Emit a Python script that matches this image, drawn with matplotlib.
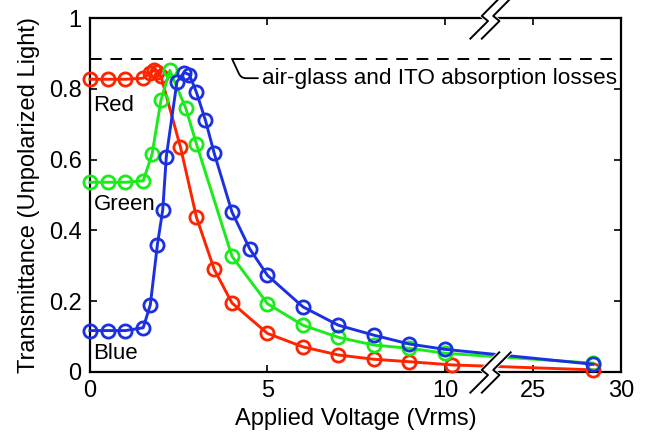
import numpy as np
import matplotlib
matplotlib.use("Agg")
import matplotlib.pyplot as plt
from matplotlib.path import Path
from matplotlib.ticker import FormatStrFormatter

plt.rcParams["font.family"] = ["Liberation Sans", "DejaVu Sans"]

# data (voltage in Vrms, transmittance 0..1)
red_v = [0, 0.5, 1.0, 1.5, 1.7, 1.8, 1.9, 2.0, 2.55, 3.0, 3.5, 4.0, 5, 6, 7, 8, 9, 10.2, 28.4]
red_t = [0.827, 0.827, 0.827, 0.830, 0.846, 0.852, 0.848, 0.835, 0.635, 0.437, 0.290,
         0.195, 0.109, 0.071, 0.048, 0.036, 0.029, 0.020, 0.006]

green_v = [0, 0.5, 1.0, 1.5, 1.75, 2.0, 2.25, 2.7, 3.0, 4.0, 5, 6, 7, 8, 9, 10, 28.4]
green_t = [0.536, 0.536, 0.536, 0.540, 0.616, 0.768, 0.852, 0.745, 0.644, 0.327,
           0.193, 0.132, 0.098, 0.076, 0.067, 0.053, 0.025]

blue_v = [0, 0.5, 1.0, 1.5, 1.7, 1.9, 2.05, 2.15, 2.45, 2.65, 2.8, 3.0, 3.25, 3.5,
          4.0, 4.5, 5, 6, 7, 8, 9, 10, 28.4]
blue_t = [0.117, 0.117, 0.117, 0.125, 0.190, 0.360, 0.458, 0.608, 0.820, 0.846, 0.840,
          0.790, 0.712, 0.618, 0.452, 0.348, 0.273, 0.184, 0.132, 0.104, 0.079, 0.064, 0.022]

loss_level = 0.885
x_ticks = [0, 5, 10, 25, 30]
y_ticks = [0, 0.2, 0.4, 0.6, 0.8, 1]

# broken x axis: 0..11.27 linear, then 22.56..30 compressed
XB = 11.27
X2 = 22.56
R = 0.496


def fwd(x):
    x = np.asarray(x, dtype=float)
    return np.where(x <= XB, x, np.where(x >= X2, XB + (x - X2) * R, XB))


def inv(t):
    t = np.asarray(t, dtype=float)
    return np.where(t <= XB, t, X2 + (t - XB) / R)


fig = plt.figure(figsize=(6.45, 4.36), dpi=100)
ax = fig.add_axes([0.1395, 0.1468, 0.8233, 0.8119])
ax.set_xscale("function", functions=(fwd, inv))

colors = {"Red": "#ff2400", "Green": "#1aeb1a", "Blue": "#1b30e0"}
series = [("Red", red_v, red_t), ("Green", green_v, green_t), ("Blue", blue_v, blue_t)]

for name, v, t in series:
    ax.plot(v, t, "-o", color=colors[name], lw=2.1, ms=9.5, mew=2.0,
            mfc="none", clip_on=False, zorder=3)

ax.axhline(loss_level, color="black", lw=1.4, dashes=(6, 4.5), zorder=2)

ax.annotate("air-glass and ITO absorption losses", xy=(4.0, loss_level),
            xytext=(4.85, 0.830), fontsize=16.2, va="center", ha="left",
            arrowprops=dict(arrowstyle="-", color="black", lw=1.3,
                            relpos=(0, 0.5), shrinkA=1, shrinkB=0,
                            connectionstyle="angle,angleA=180,angleB=115,rad=5"))

ax.text(0.1, 0.752, "Red", fontsize=16, va="center", ha="left")
ax.text(0.1, 0.473, "Green", fontsize=16, va="center", ha="left")
ax.text(0.1, 0.052, "Blue", fontsize=16, va="center", ha="left")

ax.set_xlim(0, 30)
ax.set_ylim(0, 1)
ax.set_xticks(x_ticks)
ax.set_yticks(y_ticks)
ax.yaxis.set_major_formatter(FormatStrFormatter("%g"))
ax.tick_params(direction="in", length=5, width=1.2, top=True, right=True,
               labelsize=17, pad=6)
for sp in ax.spines.values():
    sp.set_linewidth(1.6)
ax.grid(False)

ax.set_xlabel("Applied Voltage (Vrms)", fontsize=17, labelpad=4)
ax.set_ylabel("Transmittance (Unpolarized Light)", fontsize=17, labelpad=6)

# axis break symbols (lightning-shaped double slash) on top and bottom spine
l1 = [(-1.0, -1.0), (-0.12, -0.12), (-0.42, 0.12), (0.45, 1.0)]
l2 = [(x + 0.55, y) for x, y in l1]
fill_path = Path(l1 + l2[::-1] + [l1[0]], closed=True)
line_path = Path(l1 + l2, [Path.MOVETO, Path.LINETO, Path.LINETO, Path.LINETO,
                           Path.MOVETO, Path.LINETO, Path.LINETO, Path.LINETO])
bt = ax.get_xaxis_transform()
for yb in (0, 1):
    ax.plot([11.9], [yb], transform=bt, marker=fill_path, ms=30, mfc="white",
            mec="white", mew=2.5, clip_on=False, zorder=10)
    ax.plot([11.9], [yb], transform=bt, marker=line_path, ms=30, mfc="none",
            mec="black", mew=1.4, clip_on=False, zorder=11)

fig.savefig("out.png", dpi=100)
plt.close(fig)
